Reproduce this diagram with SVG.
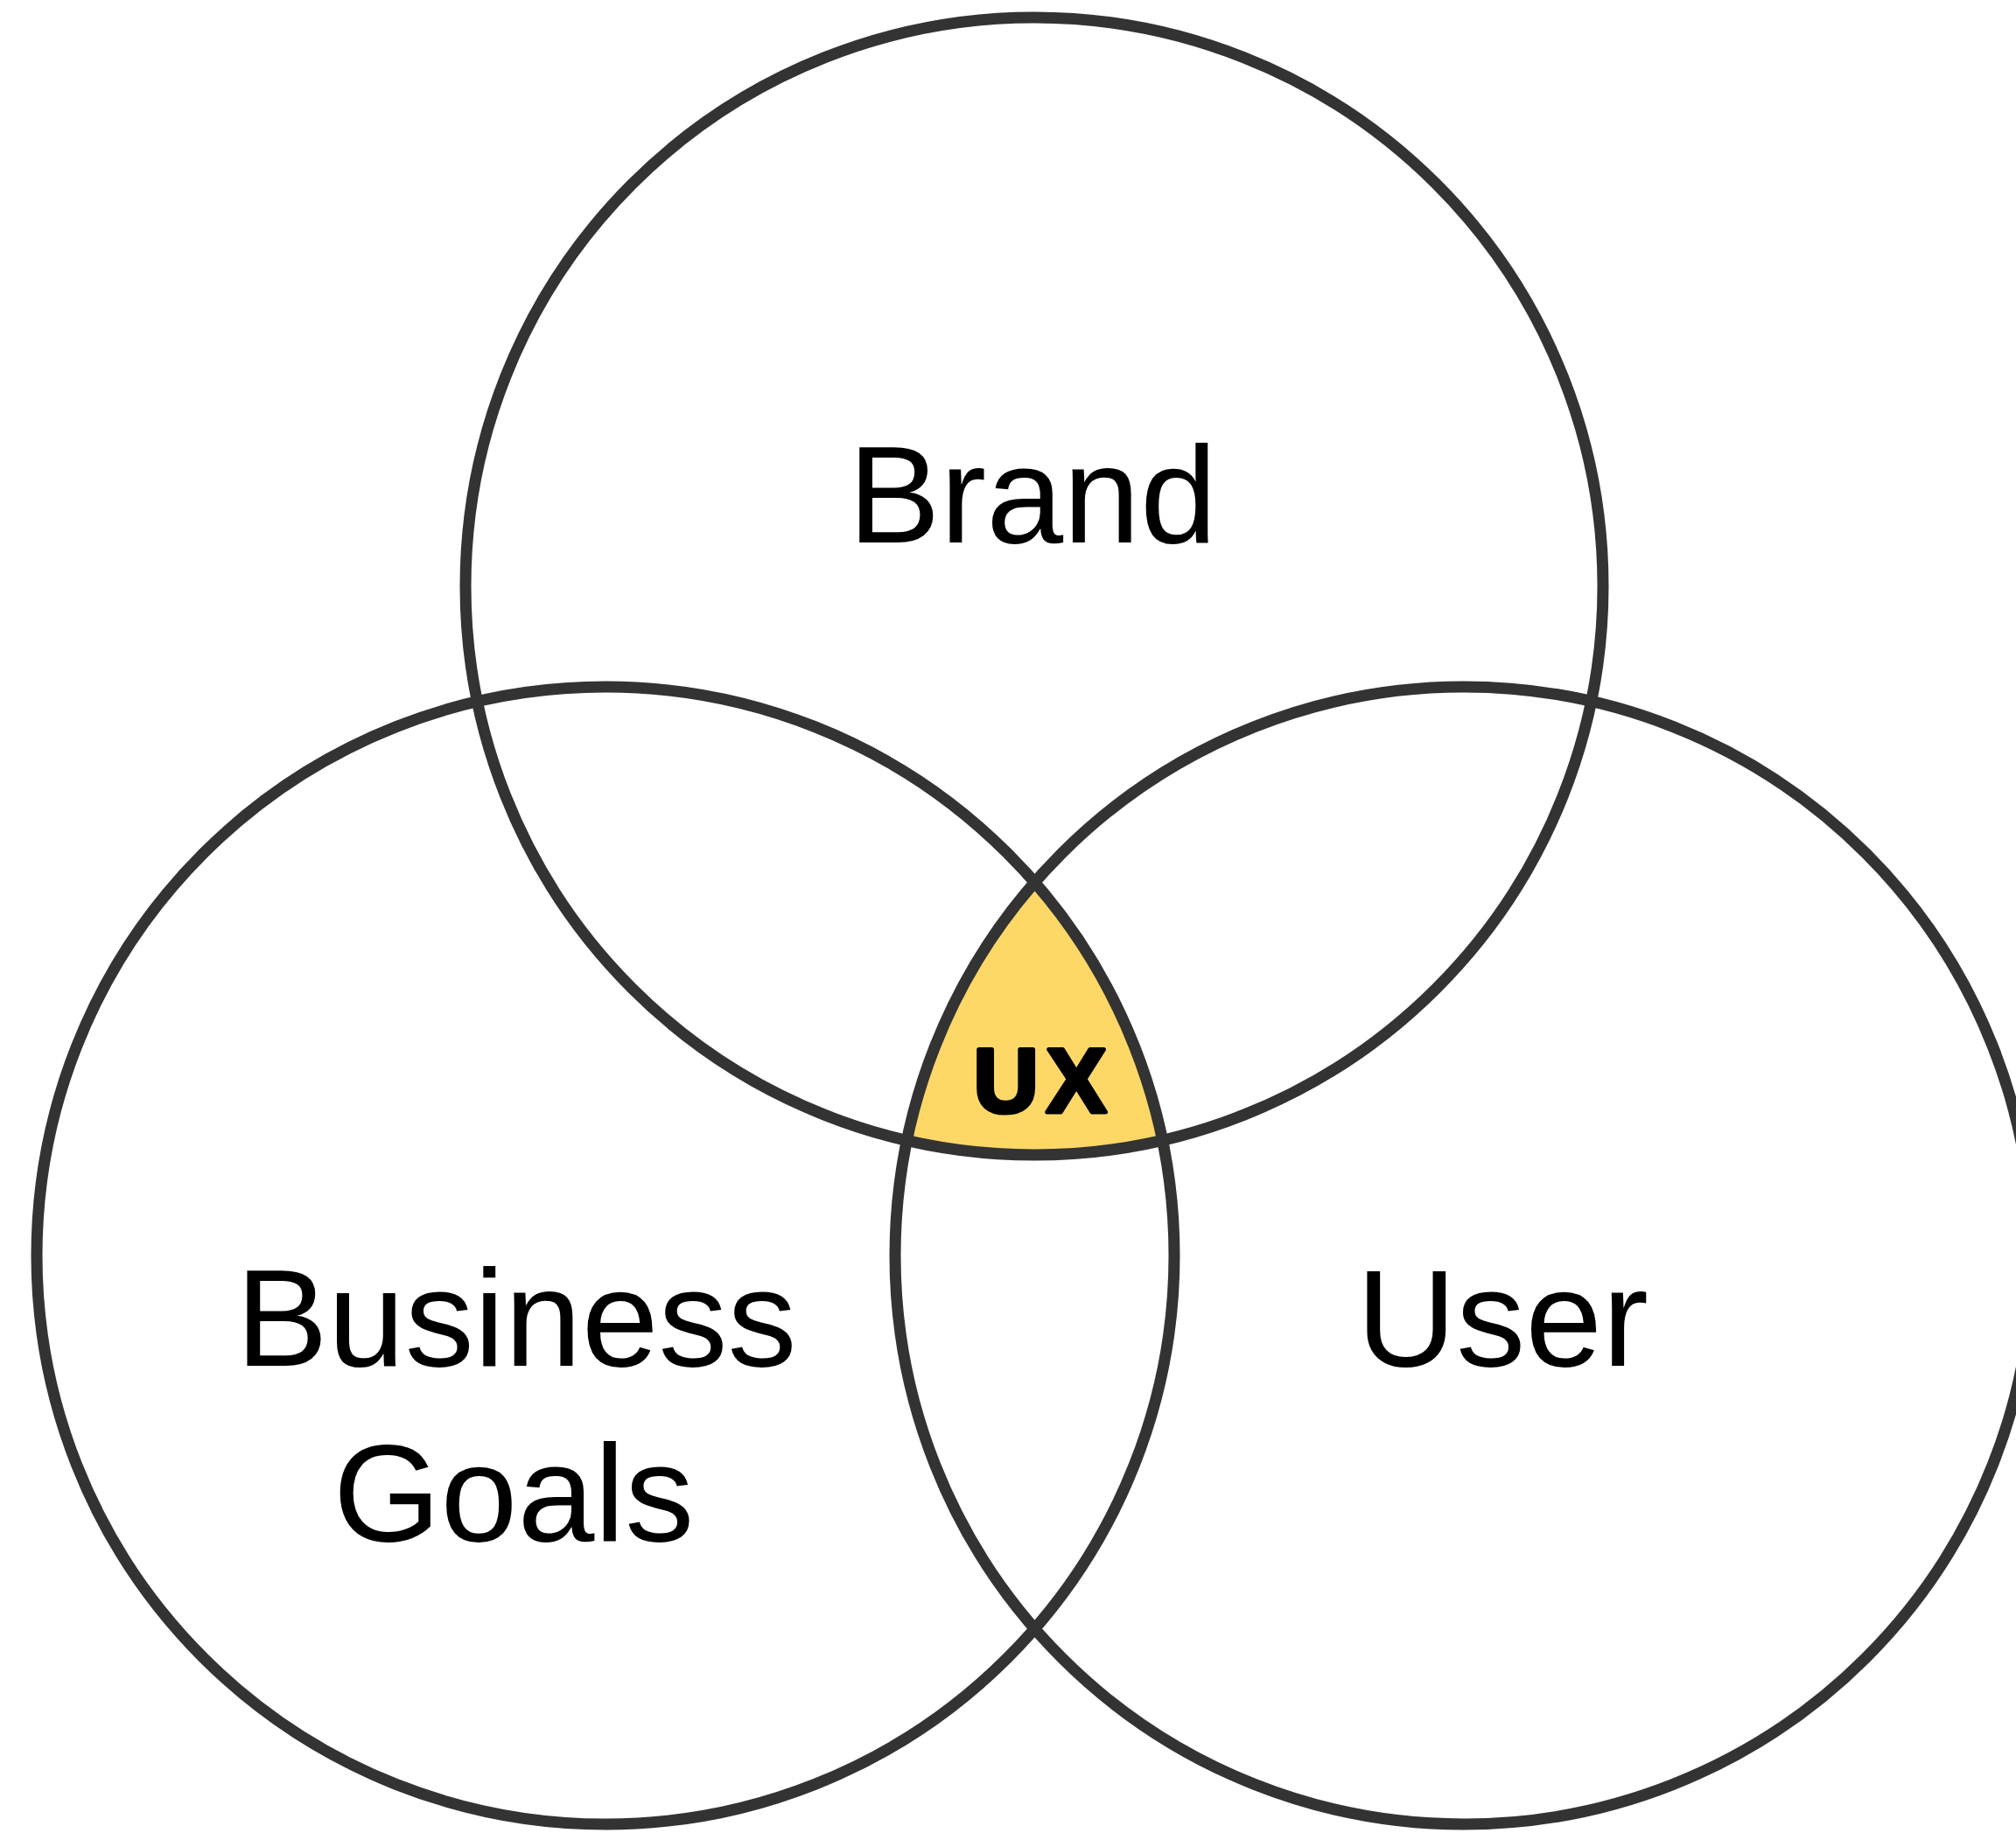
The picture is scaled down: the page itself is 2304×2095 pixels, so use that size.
<svg xmlns="http://www.w3.org/2000/svg" width="2304" height="2095" viewBox="0 0 2304 2095">
<style>
.ring{fill:none;stroke:#333333;stroke-width:13}
.lbl{font-family:"Liberation Sans",Arial,sans-serif;font-size:158px;fill:#000;text-anchor:middle}
.ux{font-family:"Liberation Sans",Arial,sans-serif;font-size:103px;font-weight:700;fill:#000;stroke:#000;stroke-width:5;stroke-linejoin:round;letter-spacing:9px;text-anchor:middle}
</style>
<rect width="2304" height="2095" fill="#ffffff"/>
<g id="ux-region">
<path d="M1182.5,1008.5 A650,650 0 0 1 1328.5,1303.3 A650,650 0 0 1 1036.4,1303.5 A650,650 0 0 1 1182.5,1008.5 Z" fill="#FDD867"/>
<text class="ux" x="1193" y="1271">UX</text>
</g>
<g id="brand">
<circle class="ring" cx="1182" cy="670" r="650"/>
<text class="lbl" x="1180" y="620">Brand</text>
</g>
<g id="business-goals">
<circle class="ring" cx="692" cy="1435" r="650"/>
<text class="lbl" x="590" y="1561">Business</text>
<text class="lbl" x="587" y="1761">Goals</text>
</g>
<g id="user">
<circle class="ring" cx="1673" cy="1435" r="650"/>
<text class="lbl" x="1717" y="1561">User</text>
</g>
<g id="connectors"></g>
</svg>
